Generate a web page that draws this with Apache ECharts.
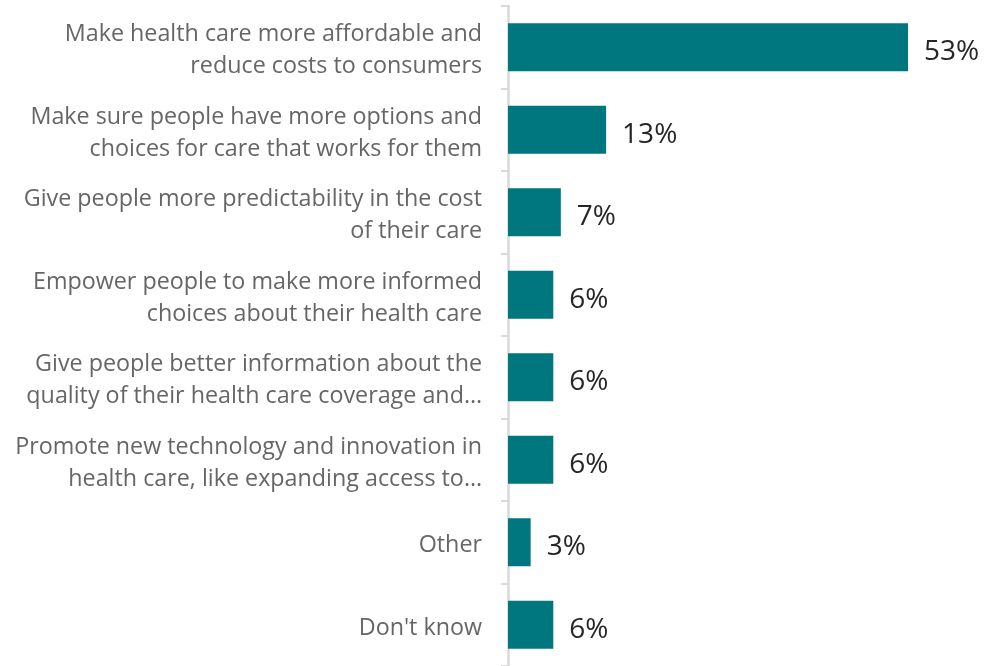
<!DOCTYPE html>
<html>
<head>
<meta charset="utf-8">
<script src="https://cdn.jsdelivr.net/npm/echarts@6/dist/echarts.min.js"></script>
<style>
  html, body { margin: 0; padding: 0; background: #ffffff; }
  #chart { width: 984px; height: 666px; }
</style>
</head>
<body>
<div id="chart"></div>
<script>
// Survey answers, listed top to bottom
const categories = [
  'Make health care more affordable and\nreduce costs to consumers',
  'Make sure people have more options and\nchoices for care that works for them',
  'Give people more predictability in the cost\nof their care',
  'Empower people to make more informed\nchoices about their health care',
  'Give people better information about the\nquality of their health care coverage and…',
  'Promote new technology and innovation in\nhealth care, like expanding access to…',
  'Other',
  "Don't know"
];
// Share of respondents (%)
const shares = [53, 13, 7, 6, 6, 6, 3, 6];

const chart = echarts.init(document.getElementById('chart'));
chart.setOption({
  animation: false,
  // the plot runs a little past the bottom edge, so the last band is cut off
  grid: { left: 508, right: 76, top: 6, height: 662.5, containLabel: false },
  xAxis: {
    type: 'value',
    min: 0,
    max: 53,
    show: false
  },
  yAxis: {
    type: 'category',
    inverse: true,
    data: categories,
    axisLine: { show: true, lineStyle: { color: '#d9d9d9', width: 2.5 } },
    axisTick: { show: true, length: 7, lineStyle: { color: '#d9d9d9', width: 2 } },
    axisLabel: {
      color: '#666666',
      fontFamily: 'Open Sans',
      fontSize: 23.3,
      lineHeight: 32,
      margin: 26,
      align: 'right',
      // a thin spacer line on top nudges the text block slightly downward
      formatter: (v) => '{gap| }\n' + v,
      rich: {
        gap: { fontSize: 1, lineHeight: 7 }
      }
    },
    splitLine: { show: false }
  },
  series: [{
    type: 'bar',
    data: shares,
    barWidth: 48,
    itemStyle: { color: '#00767f' },
    label: {
      show: true,
      position: 'right',
      distance: 16,
      offset: [0, 5],
      formatter: '{c}%',
      color: '#262626',
      fontFamily: 'Open Sans',
      fontSize: 28
    }
  }]
});
</script>
</body>
</html>
